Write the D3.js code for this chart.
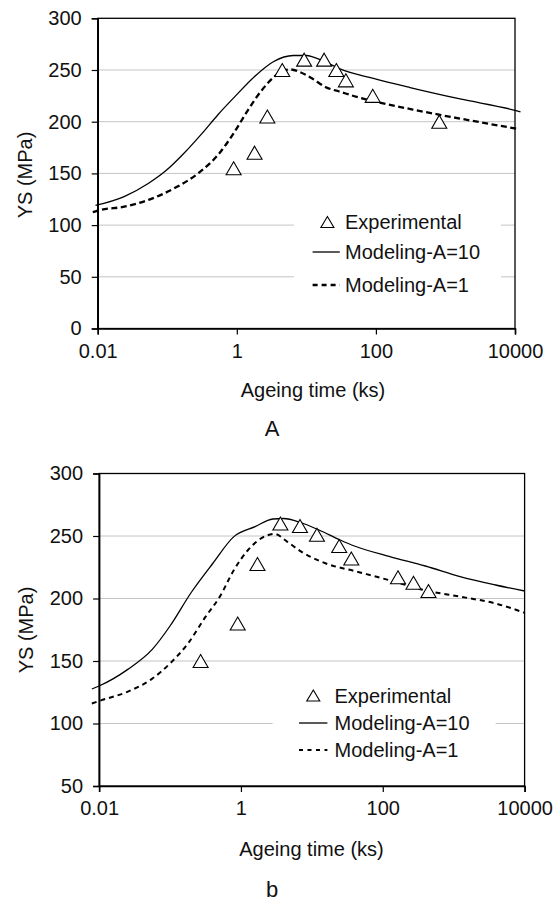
<!DOCTYPE html>
<html><head><meta charset="utf-8">
<script src="https://cdn.jsdelivr.net/npm/d3@7"></script>
<style>
html,body{margin:0;padding:0;background:#fff;}
svg text{font-family:"Liberation Sans",Arial,sans-serif;fill:#111;}
</style></head>
<body>
<script>
// ---------- DATA ----------
const xTicks = [0.01, 1, 100, 10000];
const xTickLabels = ["0.01", "1", "100", "10000"];
const yTicksA = [0, 50, 100, 150, 200, 250, 300];
const yTicksB = [50, 100, 150, 200, 250, 300];
const legendLabels = ["Experimental", "Modeling-A=10", "Modeling-A=1"];
const panelLabels = ["A", "b"];

// Panel A
const expA_x = [0.9, 1.8, 2.75, 4.5, 9.3, 18, 27, 37, 90, 815];
const expA_y = [155, 170, 205, 250, 260, 260, 250, 240, 225, 200];
const solidA_x = [0.0093, 0.024, 0.054, 0.097, 0.174, 0.31, 0.54, 0.93, 1.82, 3.35, 6.5, 10, 12.6, 20, 30.5, 92, 310, 1620, 10000, 12000];
const solidA_y = [119, 127.6, 140.5, 153, 169.5, 188, 207, 224, 244, 258, 264, 264, 262.5, 257, 251, 241.8, 233, 222, 211, 209.5];
const dashA_x = [0.0085, 0.01, 0.025, 0.054, 0.138, 0.278, 0.562, 0.9, 1.44, 2.29, 3.67, 4.93, 6.0, 8.1, 11.3, 19.6, 30.5, 53, 143, 386, 1620, 11200];
const dashA_y = [112.5, 114, 118, 124.4, 137, 150, 169.5, 188.8, 211, 230.5, 245, 250, 250.5, 248, 243, 233, 229, 224, 217, 211, 203, 193];

// Panel b
const expB_x = [0.27, 0.9, 1.71, 3.6, 6.8, 11.8, 24.3, 36, 164, 271, 441];
const expB_y = [150, 180, 227.6, 260, 258, 251, 242, 232, 217, 212.6, 206];
const solidB_x = [0.0079, 0.01, 0.0254, 0.0566, 0.1, 0.2, 0.4, 0.796, 1.585, 2.82, 3.98, 7.08, 12.6, 25.1, 39.8, 126, 398, 1230, 3890, 10000];
const solidB_y = [127.6, 130, 143.3, 159.5, 178, 205, 228, 249.5, 257.5, 263.6, 264, 260.6, 254.8, 246.8, 242, 233.5, 226, 217.5, 210.8, 206];
const dashB_x = [0.0079, 0.01, 0.0254, 0.0566, 0.1, 0.179, 0.318, 0.504, 0.796, 1.26, 1.78, 2.99, 4.47, 7.08, 15.8, 39.8, 126, 398, 1230, 3890, 10000];
const dashB_y = [116, 118, 125.5, 136, 148, 164, 185.5, 201.5, 222.8, 238.8, 246.8, 251.6, 245.5, 237.5, 228, 222, 214.5, 206.5, 201.5, 196, 188.6];

// ---------- DRAW ----------
const svg = d3.select("body").append("svg").attr("width", 555).attr("height", 901);

function tri(cx, cy, w, h) {
  return `M${cx},${cy - h / 2}L${cx + w / 2},${cy + h / 2}L${cx - w / 2},${cy + h / 2}Z`;
}

function panel(cfg, d) {
  const g = svg.append("g");
  const x = d3.scaleLog().domain([0.01, 10000]).range([cfg.x0, cfg.x1]);
  const y = d3.scaleLinear().domain(cfg.yDomain).range([cfg.y0, cfg.y1]);

  // gridlines
  g.append("g").selectAll("line").data(d.yTicks.filter(v => v !== cfg.yDomain[0] && v !== cfg.yDomain[1]))
    .join("line").attr("x1", cfg.x0).attr("x2", cfg.x1).attr("y1", v => y(v)).attr("y2", v => y(v))
    .attr("stroke", "#c4c4c4").attr("stroke-width", 1);

  // legend background (covers gridlines)
  g.append("rect").attr("x", cfg.lgBg[0]).attr("y", cfg.lgBg[1]).attr("width", cfg.lgBg[2]).attr("height", cfg.lgBg[3]).attr("fill", "#fff");

  // frame
  g.append("rect").attr("x", cfg.x0).attr("y", cfg.y1).attr("width", cfg.x1 - cfg.x0).attr("height", cfg.y0 - cfg.y1)
    .attr("fill", "none").attr("stroke", "#000").attr("stroke-width", 1.3);

  // y axis
  const ya = d3.axisLeft(y).tickValues(d.yTicks).tickSize(6).tickPadding(10).tickFormat(d3.format("d"));
  const yg = g.append("g").attr("transform", `translate(${cfg.x0},0)`).call(ya);
  yg.select(".domain").attr("stroke", "#000").attr("stroke-width", 1.6);
  yg.selectAll(".tick line").attr("stroke", "#000").attr("stroke-width", 1.2);
  yg.selectAll(".tick text").attr("font-size", 20).attr("fill", "#111").attr("font-family", "Liberation Sans, Arial, sans-serif");

  // x axis
  const xa = d3.axisBottom(x).tickValues(xTicks).tickSize(6).tickPadding(9).tickFormat((v, i) => xTickLabels[i]);
  const xg = g.append("g").attr("transform", `translate(0,${cfg.y0})`).call(xa);
  xg.select(".domain").attr("stroke", "#000").attr("stroke-width", 1.6);
  xg.selectAll(".tick line").attr("stroke", "#000").attr("stroke-width", 1.2);
  xg.selectAll(".tick text").attr("font-size", 20).attr("fill", "#111").attr("font-family", "Liberation Sans, Arial, sans-serif");

  // axis titles
  g.append("text").attr("x", cfg.xtX).attr("y", cfg.xtY).attr("text-anchor", "middle").attr("font-size", 20).text("Ageing time (ks)");
  g.append("text").attr("transform", `translate(${cfg.ytX},${cfg.ytY}) rotate(-90)`).attr("text-anchor", "middle").attr("font-size", 20).text("YS (MPa)");

  // lines
  const line = d3.line().x(p => x(p[0])).y(p => y(p[1])).curve(d3.curveMonotoneX);
  g.append("path").datum(d.sx.map((v, i) => [v, d.sy[i]])).attr("d", line)
    .attr("fill", "none").attr("stroke", "#000").attr("stroke-width", 1.3);
  g.append("path").datum(d.dx.map((v, i) => [v, d.dy[i]])).attr("d", line)
    .attr("fill", "none").attr("stroke", "#000").attr("stroke-width", cfg.dashW).attr("stroke-dasharray", cfg.dash);

  // experimental markers
  g.append("g").selectAll("path").data(d.ex.map((v, i) => [v, d.ey[i]])).join("path")
    .attr("d", p => tri(x(p[0]), y(p[1]), 15, 13))
    .attr("fill", "#fff").attr("stroke", "#000").attr("stroke-width", 1.1);

  // legend
  const L = cfg.lg;
  g.append("path").attr("d", tri(L.sym, L.rows[0], 13, 11)).attr("fill", "#fff").attr("stroke", "#000").attr("stroke-width", 1.1);
  g.append("line").attr("x1", L.l0).attr("x2", L.l1).attr("y1", L.rows[1]).attr("y2", L.rows[1]).attr("stroke", "#000").attr("stroke-width", 1.3);
  g.append("line").attr("x1", L.l0).attr("x2", L.l1).attr("y1", L.rows[2]).attr("y2", L.rows[2]).attr("stroke", "#000")
    .attr("stroke-width", cfg.dashW).attr("stroke-dasharray", cfg.lgDash);
  legendLabels.forEach((t, i) => {
    g.append("text").attr("x", L.tx).attr("y", L.rows[i]).attr("dy", "0.36em").attr("font-size", 20).text(t);
  });

  // panel label
  svg.append("text").attr("x", cfg.plX).attr("y", cfg.plY).attr("text-anchor", "middle")
    .attr("font-family", "Liberation Serif, Times New Roman, serif").attr("font-size", 22).text(cfg.pl);
}

panel({
  x0: 97.7, x1: 515, y0: 328.5, y1: 18.3, yDomain: [0, 300],
  xtX: 313, xtY: 397, ytX: 32, ytY: 175,
  dash: "6,3.5", dashW: 2.3, lgDash: "5,4",
  lgBg: [294, 205, 207, 95],
  lg: { sym: 327.4, l0: 312.6, l1: 339.8, tx: 345, rows: [222, 252, 285] },
  pl: panelLabels[0], plX: 272, plY: 436
}, { yTicks: yTicksA, ex: expA_x, ey: expA_y, sx: solidA_x, sy: solidA_y, dx: dashA_x, dy: dashA_y });

panel({
  x0: 99.1, x1: 524.6, y0: 786, y1: 473.5, yDomain: [50, 300],
  xtX: 311.5, xtY: 856, ytX: 33, ytY: 630,
  dash: "5,4", dashW: 2, lgDash: "4,4.5",
  lgBg: [272.6, 680, 223, 85],
  lg: { sym: 313.3, l0: 299, l1: 327.4, tx: 334.5, rows: [695.5, 723, 750] },
  pl: panelLabels[1], plX: 272, plY: 897
}, { yTicks: yTicksB, ex: expB_x, ey: expB_y, sx: solidB_x, sy: solidB_y, dx: dashB_x, dy: dashB_y });
</script>
</body></html>
